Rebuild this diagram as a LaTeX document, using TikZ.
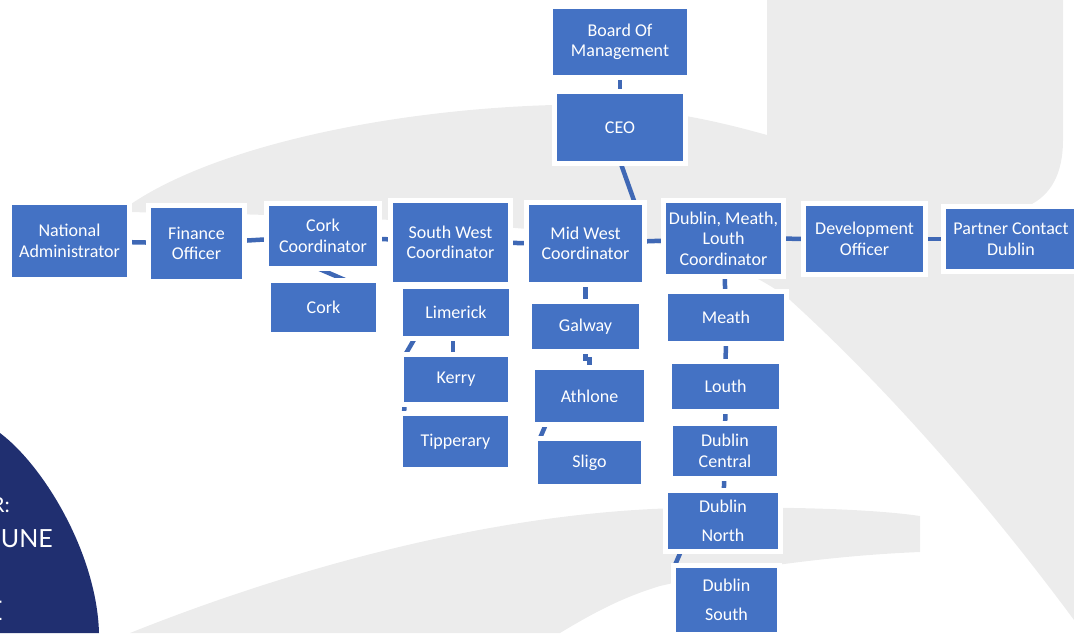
\documentclass[tikz,border=0pt]{standalone}
\usepackage{fontspec}
\setmainfont{Carlito}
\newfontfamily\circfont{Lato}
\usetikzlibrary{backgrounds}
\definecolor{boxblue}{HTML}{4472C4}
\definecolor{connblue}{HTML}{3F68B5}
\definecolor{bggrey}{RGB}{236,236,236}
\definecolor{navyc}{RGB}{32,47,112}
\tikzset{
  orgbox/.style={fill=boxblue, text=white, align=center, inner sep=0pt,
    font=\fontsize{18}{20.5}\selectfont},
  conn/.style={draw=connblue, line width=4.5pt},
  circtext/.style={text=white, inner sep=0pt, anchor=base east}
}
\newcommand\mkbox[6]{\node[orgbox, minimum width={(#4-#2)*1pt}, minimum height={(#5-#3)*1pt}] (#1) at ({(#2+#4)/2},{(#3+#5)/2}) {#6};}
\begin{document}
\begin{tikzpicture}[x=1pt,y=-1pt]
\useasboundingbox (0,0) rectangle (1074,633);
% boxes
\mkbox{bom}{553}{9}{687}{75}{Board Of\\Management}
\mkbox{ceo}{557}{94}{683}{161}{CEO}
\mkbox{na}{12}{205}{127}{277}{National\\Administrator}
\mkbox{fo}{151}{208}{242}{279}{Finance\\Officer}
\mkbox{cc}{269}{206}{377}{266}{Cork\\Coordinator}
\mkbox{cork}{271}{283}{376}{332}{Cork}
\mkbox{sw}{393}{203}{508}{282}{South West\\Coordinator}
\mkbox{lim}{403}{289}{509}{336}{Limerick}
\mkbox{ker}{404}{357}{508}{402}{Kerry}
\mkbox{tip}{403}{416}{508}{467}{Tipperary}
\mkbox{mw}{529}{205}{642}{282}{Mid West\\Coordinator}
\mkbox{gal}{532}{304}{639}{349}{Galway}
\mkbox{ath}{535}{370}{644}{422}{Athlone}
\mkbox{sli}{538}{441}{641}{484}{Sligo}
\mkbox{dm}{666}{203}{781}{274}{Dublin, Meath,\\Louth\\Coordinator}
\mkbox{mea}{668}{294}{784}{341}{Meath}
\mkbox{lou}{672}{364}{779}{409}{Louth}
\mkbox{dc}{673}{426}{777}{476}{Dublin\\Central}
\mkbox{dn}{668}{493}{778}{549}{Dublin\\[8pt]North}
\mkbox{ds}{676}{568}{777}{632}{Dublin\\[8pt]South}
\mkbox{dev}{806}{206}{923}{272}{Development\\Officer}
\mkbox{pc}{946}{209}{1076}{269}{Partner Contact\\Dublin}
\begin{scope}[on background layer]
  % faint background swooshes
  \fill[bggrey] (120,212) .. controls (200,150) and (380,110) .. (553,105)
    .. controls (650,104) and (720,122) .. (767,135) -- (767,0) -- (1063,0) -- (1063,140)
    .. controls (1063,175) and (1050,195) .. (1030,205) -- (1074,215) -- (1074,620)
    .. controls (1000,520) and (900,400) .. (790,300)
    .. controls (760,275) and (710,255) .. (650,242)
    .. controls (500,222) and (300,214) .. (120,212) -- cycle;
  \fill[bggrey] (130,633) .. controls (300,565) and (500,512) .. (680,508)
    .. controls (800,506) and (880,510) .. (920,516) -- (920,552)
    .. controls (820,556) and (720,572) .. (660,586)
    .. controls (620,598) and (590,615) .. (560,633) -- cycle;
  % navy disc
  \fill[navyc] (0,433) .. controls (45,467) and (97,555) .. (99,633) -- (0,633) -- cycle;
  % connectors
  \draw[conn] (bom) -- (ceo);
  \draw[conn] (ceo.south) -- ([xshift=50pt]mw.north);
  \draw[conn] (na) -- (fo);
  \draw[conn] (fo) -- (cc);
  \draw[conn] (cc) -- (sw);
  \draw[conn] (sw) -- (mw);
  \draw[conn] (mw) -- (dm);
  \draw[conn] (dm) -- (dev);
  \draw[conn] (dev) -- (pc);
  \draw[conn] ([xshift=-10pt]cc.south) -- ([xshift=28pt]cork.north);
  \draw[conn] ([xshift=-40pt]lim.south) -- ([xshift=-52pt]ker.north);
  \draw[conn] ([xshift=-3pt]lim.south) -- ([xshift=-3pt]ker.north);
  \draw[conn] ([xshift=1pt]ker.south west) -- ([xshift=1pt]tip.north west);
  \draw[conn] (mw) -- (gal);
  \draw[conn] (gal.south) -- ++(0,10) -| (ath.north);
  \draw[conn] ([xshift=12pt]ath.south west) -- ([xshift=1pt]sli.north west);
  \draw[conn] (dm) -- (mea);
  \draw[conn] (mea) -- (lou);
  \draw[conn] (lou) -- (dc);
  \draw[conn] (dc) -- (dn);
  \draw[conn] ([xshift=14pt]dn.south west) -- ([xshift=-2pt]ds.north west);
  % white frames round the boxes
  \foreach \n in {bom,ceo,na,fo,cc,cork,sw,lim,ker,tip,mw,gal,ath,sli,dm,mea,lou,dc,dn,ds,dev,pc}
    \fill[white] ([shift={(-5pt,-5pt)}]\n.south west) rectangle ([shift={(5pt,5pt)}]\n.north east);
\end{scope}
% text on the navy disc (cut by the page edge, as in the reference)
\node[circtext, font=\circfont\fontsize{21}{24}\selectfont] (t1) at (10,512) {R:};
\node[circtext, font=\circfont\fontsize{25}{28}\selectfont] (t2) at (53,547) {UNE};
\node[circtext, font=\circfont\fontsize{27}{30}\selectfont] (t3) at (3,620) {E};
\end{tikzpicture}
\end{document}
